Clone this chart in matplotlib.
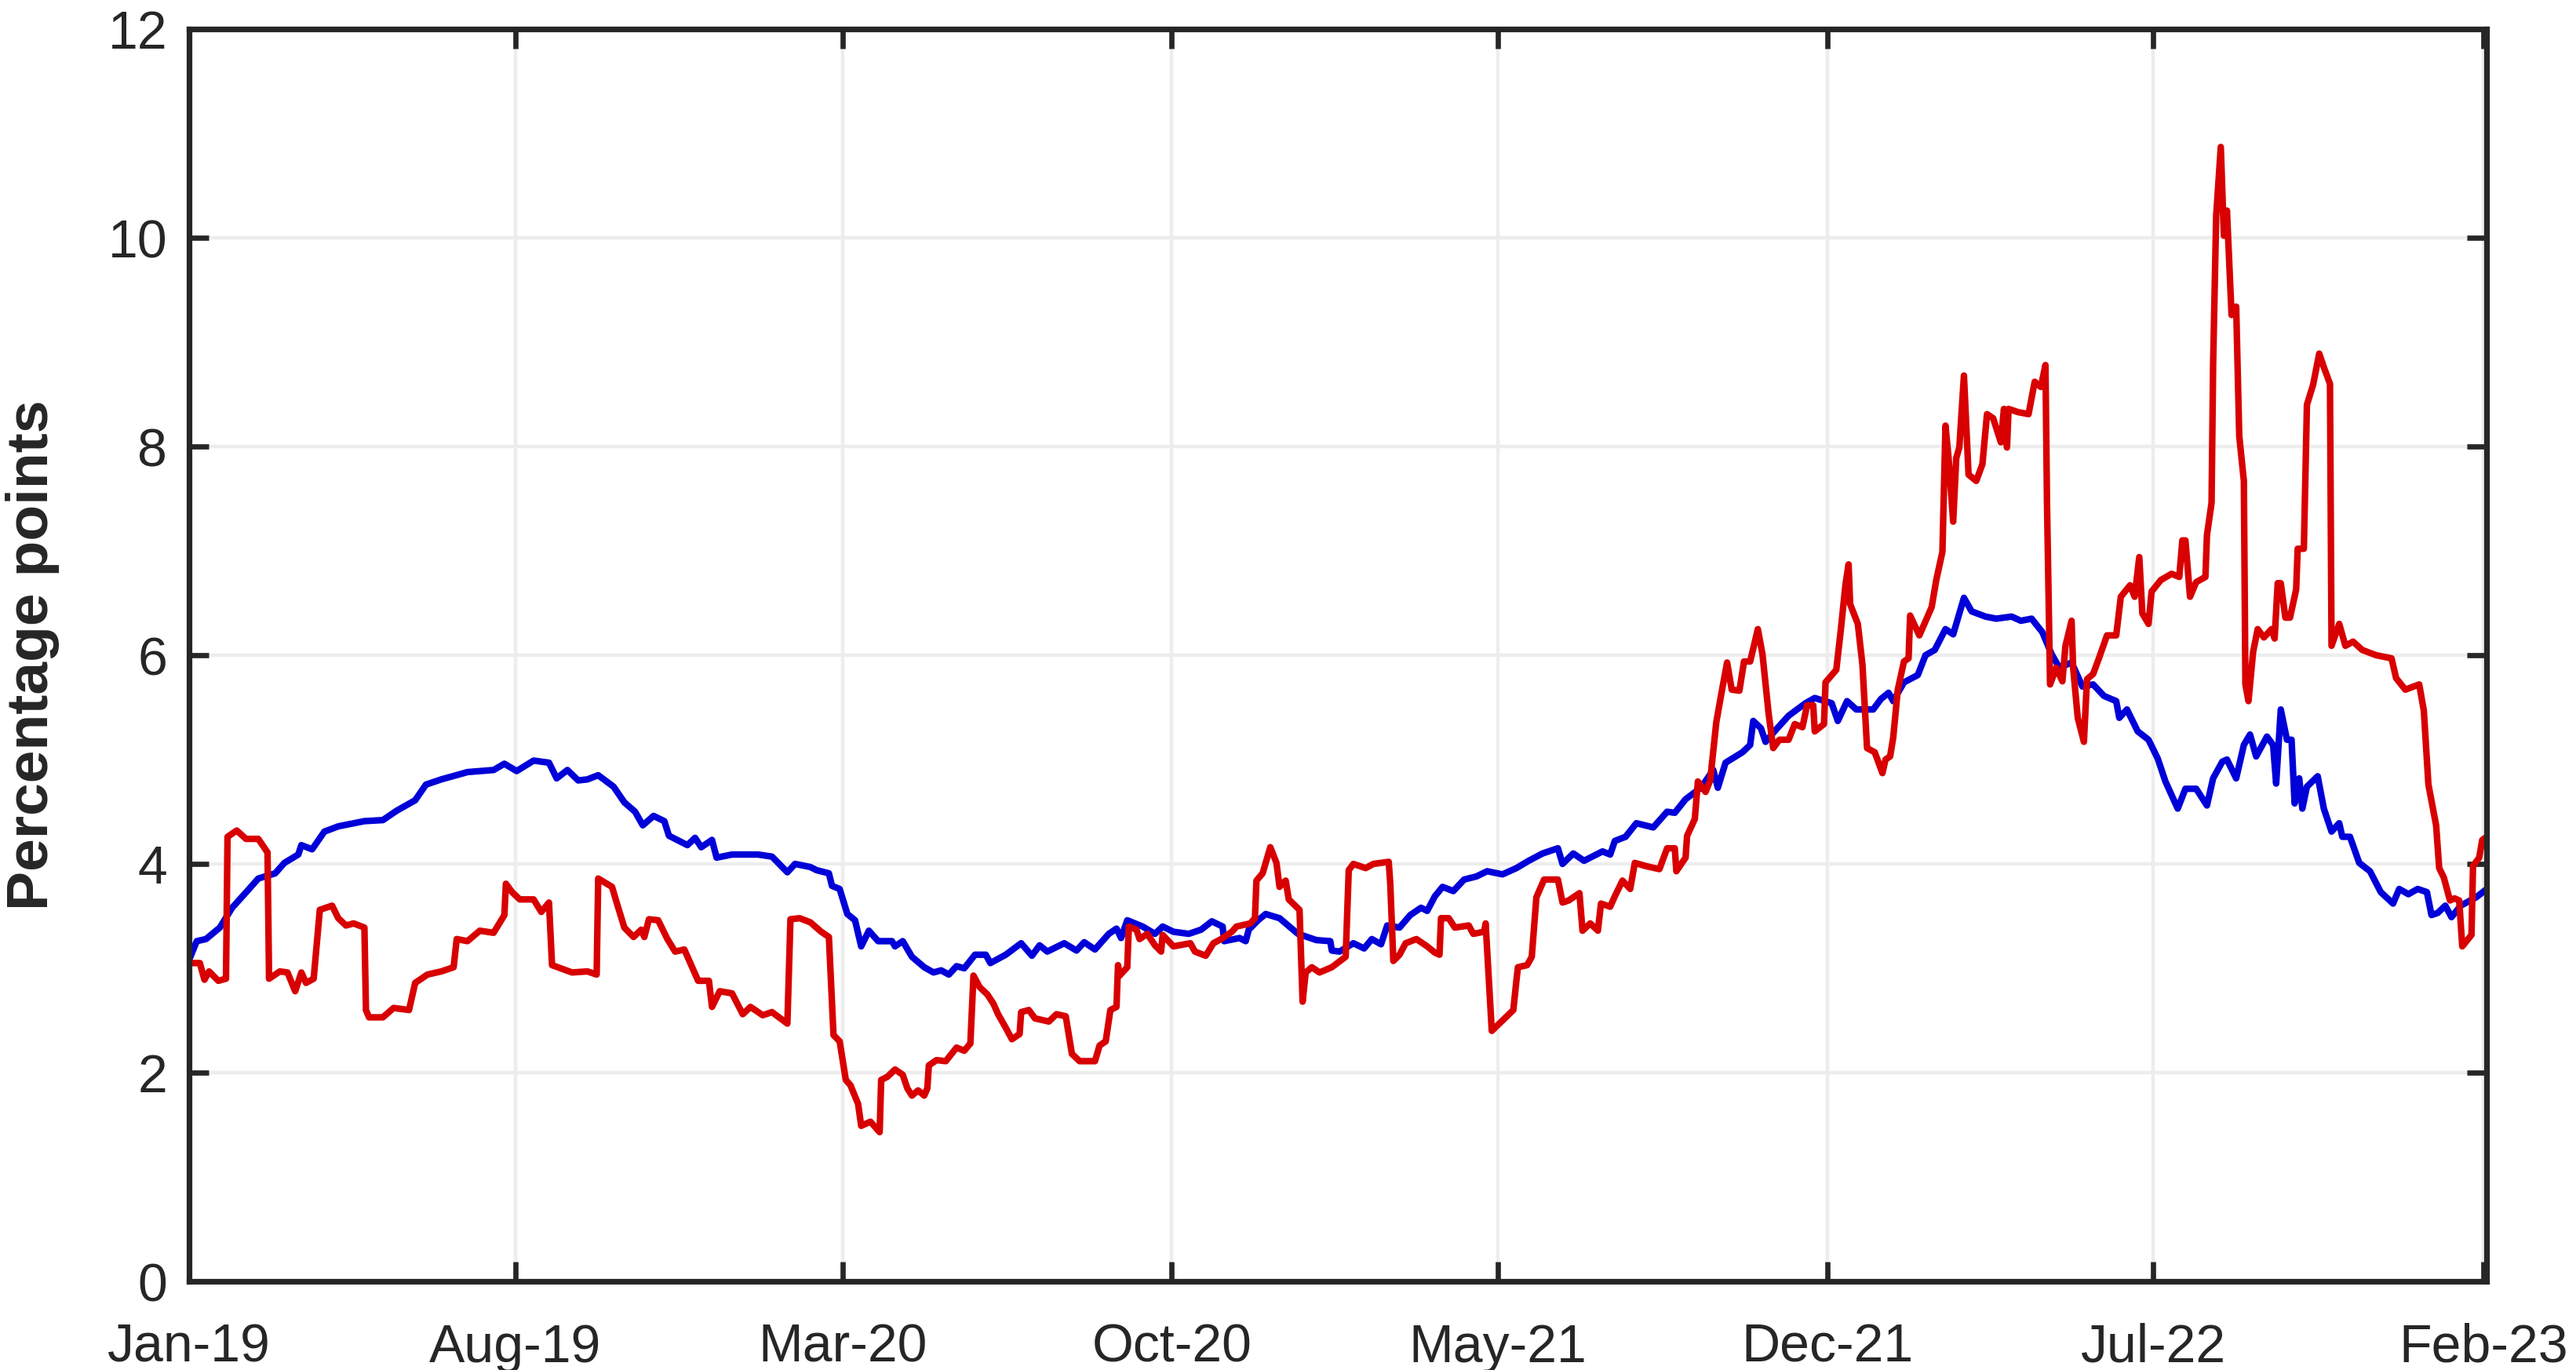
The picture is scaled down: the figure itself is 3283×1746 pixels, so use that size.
import numpy as np
import matplotlib
matplotlib.use("Agg")
import matplotlib.pyplot as plt
import matplotlib.dates as mdates

# days since 2019-01-01 and values
blue_day = [0, 5, 11, 20, 28, 39, 45, 56, 62, 71, 73, 80, 88, 97, 114, 126, 135, 147, 154, 164,
            181, 198, 205, 213, 224, 234, 239, 246, 253, 259, 266, 276, 283, 290, 295, 302, 309, 312,
            324, 329, 333, 340, 343, 353, 370, 379, 389, 394, 404, 408, 416, 418, 423, 428, 433, 437,
            442, 448, 457, 459, 464, 470, 478, 484, 489, 494, 499, 504, 511, 518, 521, 531, 541, 548,
            553, 558, 569, 577, 582, 589, 598, 603, 606, 610, 620, 628, 633, 640, 650, 658, 665, 672,
            673, 683, 687, 689, 695, 700, 709, 713, 721, 733, 742, 743, 748, 757, 764, 769, 775, 779,
            787, 794, 801, 805, 810, 815, 822, 829, 837, 844, 854, 863, 871, 880, 890, 893, 900, 907,
            919, 924, 927, 934, 941, 952, 961, 966, 973, 983, 991, 994, 999, 1010, 1015, 1017, 1022,
            1025, 1032, 1040, 1051, 1057, 1068, 1072, 1078, 1084, 1095, 1100, 1105, 1108, 1115, 1124,
            1129, 1135, 1142, 1147, 1154, 1159, 1168, 1175, 1185, 1191, 1198, 1205, 1211, 1216, 1224,
            1231, 1238, 1245, 1253, 1255, 1260, 1267, 1274, 1280, 1285, 1293, 1298, 1305, 1312, 1316,
            1322, 1325, 1331, 1336, 1340, 1344, 1351, 1355, 1357, 1360, 1364, 1367, 1369, 1372, 1374,
            1377, 1384, 1388, 1393, 1398, 1400, 1405, 1411, 1418, 1425, 1433, 1437, 1443, 1449, 1455,
            1458, 1462, 1467, 1471, 1477, 1487, 1494]
blue_val = [3.08, 3.26, 3.28, 3.39, 3.58, 3.76, 3.86, 3.91, 4.01, 4.09, 4.18, 4.14, 4.31, 4.36, 4.41,
            4.42, 4.51, 4.61, 4.76, 4.81, 4.88, 4.90, 4.96, 4.89, 4.99, 4.97, 4.82, 4.90, 4.80, 4.81,
            4.85, 4.74, 4.59, 4.50, 4.37, 4.46, 4.41, 4.27, 4.18, 4.25, 4.16, 4.23, 4.06, 4.09, 4.09,
            4.07, 3.92, 4.00, 3.97, 3.94, 3.91, 3.79, 3.76, 3.52, 3.46, 3.21, 3.36, 3.26, 3.26, 3.21,
            3.26, 3.11, 3.01, 2.96, 2.98, 2.94, 3.02, 3.00, 3.13, 3.13, 3.05, 3.13, 3.24, 3.12, 3.22,
            3.16, 3.24, 3.17, 3.25, 3.18, 3.33, 3.38, 3.29, 3.46, 3.40, 3.33, 3.40, 3.35, 3.33, 3.37,
            3.45, 3.40, 3.26, 3.29, 3.26, 3.37, 3.46, 3.52, 3.48, 3.43, 3.33, 3.27, 3.26, 3.17, 3.16,
            3.24, 3.19, 3.28, 3.23, 3.41, 3.39, 3.51, 3.58, 3.55, 3.69, 3.78, 3.74, 3.85, 3.88, 3.93,
            3.90, 3.96, 4.03, 4.10, 4.15, 4.00, 4.10, 4.03, 4.12, 4.09, 4.22, 4.26, 4.39, 4.35, 4.50,
            4.49, 4.62, 4.73, 4.90, 4.73, 4.97, 5.07, 5.14, 5.37, 5.30, 5.17, 5.29, 5.42, 5.54, 5.59,
            5.54, 5.37, 5.56, 5.48, 5.48, 5.58, 5.64, 5.56, 5.74, 5.81, 6.00, 6.05, 6.25, 6.20, 6.55,
            6.42, 6.37, 6.35, 6.37, 6.33, 6.35, 6.22, 6.01, 5.88, 5.93, 5.70, 5.72, 5.61, 5.56, 5.40,
            5.48, 5.27, 5.19, 5.01, 4.79, 4.53, 4.72, 4.72, 4.56, 4.82, 4.98, 5.00, 4.82, 5.14, 5.24,
            5.03, 5.22, 5.14, 4.77, 5.48, 5.19, 5.19, 4.58, 4.82, 4.53, 4.74, 4.84, 4.53, 4.31, 4.39,
            4.26, 4.26, 4.01, 3.93, 3.73, 3.62, 3.76, 3.71, 3.76, 3.73, 3.51, 3.53, 3.60, 3.49, 3.60,
            3.68, 3.76]

red_day = [0, 7, 10, 13, 19, 24, 25, 31, 37, 45, 51, 52, 59, 64, 69, 73, 76, 81, 85, 93, 97, 102,
           107, 114, 115, 117, 126, 133, 143, 147, 155, 164, 172, 174, 181, 189, 198, 205, 206, 210,
           215, 224, 229, 234, 236, 249, 259, 265, 266, 275, 278, 283, 289, 294, 296, 299, 305, 311,
           316, 322, 331, 338, 340, 345, 353, 360, 365, 373, 379, 389, 391, 397, 404, 411, 416, 419,
           423, 427, 430, 435, 437, 443, 449, 450, 454, 459, 464, 467, 470, 474, 478, 480, 481, 486,
           492, 499, 504, 508, 510, 514, 519, 523, 526, 531, 535, 540, 541, 546, 550, 559, 564, 570,
           574, 579, 589, 592, 596, 599, 603, 604, 605, 610, 611, 616, 618, 623, 628, 632, 633, 640,
           651, 654, 661, 666, 671, 678, 681, 690, 693, 694, 698, 703, 707, 709, 713, 715, 722, 724,
           726, 730, 735, 743, 752, 754, 757, 765, 770, 780, 781, 783, 787, 791, 798, 805, 810, 813,
           814, 819, 823, 832, 835, 842, 843, 847, 854, 861, 863, 864, 870, 873, 876, 881, 890, 893,
           897, 904, 906, 911, 916, 918, 924, 927, 932, 937, 940, 947, 956, 961, 966, 967, 973, 974,
           979, 981, 986, 989, 993, 996, 1000, 1003, 1008, 1011, 1015, 1020, 1023, 1027, 1030, 1034,
           1040, 1044, 1049, 1052, 1056, 1057, 1063, 1064, 1071, 1074, 1077, 1079, 1080, 1085, 1088,
           1091, 1096, 1101, 1103, 1106, 1108, 1111, 1115, 1118, 1119, 1125, 1133, 1136, 1140, 1142,
           1144, 1147, 1149, 1151, 1154, 1157, 1162, 1166, 1169, 1173, 1178, 1180, 1182, 1183, 1189,
           1196, 1200, 1204, 1207, 1208, 1210, 1214, 1218, 1220, 1224, 1225, 1228, 1232, 1234, 1238,
           1242, 1247, 1253, 1256, 1262, 1265, 1268, 1270, 1274, 1276, 1282, 1289, 1294, 1296, 1298,
           1301, 1305, 1311, 1312, 1315, 1316, 1318, 1321, 1323, 1325, 1328, 1331, 1333, 1336, 1337,
           1339, 1342, 1345, 1349, 1354, 1356, 1358, 1360, 1363, 1366, 1370, 1371, 1375, 1377, 1381,
           1385, 1388, 1392, 1393, 1398, 1402, 1407, 1413, 1422, 1432, 1435, 1441, 1450, 1453, 1456,
           1461, 1463, 1466, 1470, 1473, 1476, 1478, 1484, 1485, 1489, 1491, 1494]
red_val = [3.05, 3.05, 2.89, 2.97, 2.88, 2.90, 4.26, 4.32, 4.24, 4.24, 4.11, 2.90, 2.97, 2.96, 2.78,
           2.96, 2.86, 2.90, 3.56, 3.60, 3.48, 3.41, 3.43, 3.39, 2.60, 2.53, 2.53, 2.62, 2.60, 2.86,
           2.94, 2.97, 3.01, 3.28, 3.26, 3.36, 3.34, 3.51, 3.81, 3.73, 3.66, 3.66, 3.54, 3.63, 3.03,
           2.96, 2.97, 2.94, 3.86, 3.78, 3.63, 3.39, 3.30, 3.37, 3.30, 3.47, 3.46, 3.28, 3.16, 3.18,
           2.88, 2.88, 2.63, 2.78, 2.76, 2.56, 2.63, 2.55, 2.58, 2.47, 3.47, 3.48, 3.44, 3.35, 3.30,
           2.36, 2.30, 1.93, 1.88, 1.70, 1.49, 1.53, 1.43, 1.93, 1.96, 2.03, 1.98, 1.85, 1.78, 1.83,
           1.78, 1.85, 2.07, 2.12, 2.11, 2.24, 2.21, 2.28, 2.93, 2.82, 2.75, 2.66, 2.56, 2.43, 2.32,
           2.37, 2.58, 2.60, 2.52, 2.49, 2.56, 2.54, 2.18, 2.11, 2.11, 2.26, 2.30, 2.60, 2.63, 3.03,
           2.93, 3.01, 3.40, 3.37, 3.28, 3.33, 3.22, 3.16, 3.32, 3.21, 3.24, 3.16, 3.12, 3.24, 3.28,
           3.35, 3.40, 3.43, 3.48, 3.84, 3.91, 4.16, 4.01, 3.78, 3.84, 3.66, 3.56, 2.68, 2.96, 3.01,
           2.96, 3.01, 3.11, 3.94, 4.00, 3.96, 4.00, 4.02, 3.81, 3.07, 3.13, 3.24, 3.28, 3.21, 3.15,
           3.13, 3.48, 3.48, 3.39, 3.41, 3.33, 3.35, 3.43, 2.40, 2.50, 2.60, 2.88, 3.01, 3.03, 3.11,
           3.68, 3.85, 3.85, 3.63, 3.65, 3.72, 3.36, 3.43, 3.36, 3.62, 3.59, 3.69, 3.84, 3.76, 4.01,
           3.98, 3.95, 4.15, 4.15, 3.93, 4.06, 4.27, 4.43, 4.79, 4.69, 4.80, 5.36, 5.61, 5.93, 5.67,
           5.66, 5.94, 5.94, 6.25, 6.01, 5.44, 5.11, 5.19, 5.19, 5.34, 5.31, 5.52, 5.52, 5.27, 5.34,
           5.74, 5.86, 6.25, 6.68, 6.87, 6.49, 6.30, 5.91, 5.11, 5.07, 4.87, 5.00, 5.03, 5.21, 5.67,
           5.94, 5.97, 6.38, 6.19, 6.46, 6.72, 6.99, 8.20, 7.89, 7.28, 7.89, 7.99, 8.68, 7.73, 7.67,
           7.83, 8.31, 8.27, 8.04, 8.36, 7.99, 8.36, 8.33, 8.31, 8.62, 8.57, 8.78, 7.46, 5.72, 5.88,
           5.75, 6.09, 6.33, 5.88, 5.40, 5.17, 5.77, 5.82, 5.98, 6.19, 6.19, 6.56, 6.67, 6.56, 6.94,
           6.40, 6.30, 6.61, 6.72, 6.78, 6.75, 7.10, 7.10, 6.56, 6.70, 6.75, 7.15, 7.46, 8.78, 10.21,
           10.87, 10.02, 10.26, 9.26, 9.34, 8.10, 7.67, 5.72, 5.56, 6.03, 6.25, 6.17, 6.25, 6.16,
           6.69, 6.69, 6.36, 6.36, 6.63, 7.02, 7.02, 8.40, 8.59, 8.89, 8.76, 8.60, 6.09, 6.30, 6.09,
           6.13, 6.05, 6.00, 5.97, 5.78, 5.67, 5.72, 5.47, 4.76, 4.37, 3.96, 3.87, 3.65, 3.67, 3.65,
           3.21, 3.32, 3.98, 4.06, 4.23, 4.26]

tick_dates = ["2019-01-01", "2019-08-01", "2020-03-01", "2020-10-01", "2021-05-01",
              "2021-12-01", "2022-07-01", "2023-02-01"]

start = np.datetime64("2019-01-01")
blue_t = start + np.array(blue_day).astype("timedelta64[D]")
red_t = start + np.array(red_day).astype("timedelta64[D]")

plt.rcParams["font.family"] = ["Liberation Sans", "DejaVu Sans"]
dark = "#262626"

fig = plt.figure(figsize=(16.415, 8.73), dpi=200)
ax = fig.add_axes([0.0734, 0.0647, 0.892, 0.9141])

ax.plot(blue_t, blue_val, color="#0000d8", lw=3.0, solid_joinstyle="round")
ax.plot(red_t, red_val, color="#d80000", lw=3.0, solid_joinstyle="round")

ax.set_xlim(np.datetime64("2019-01-01"), np.datetime64("2023-02-03"))
ax.set_ylim(0, 12)
ax.set_yticks(range(0, 13, 2))
ax.set_xticks([np.datetime64(d) for d in tick_dates])
ax.xaxis.set_major_formatter(mdates.DateFormatter("%b-%y"))

ax.grid(True, color="#ededed", lw=1.6)
ax.set_axisbelow(True)
for s in ax.spines.values():
    s.set_linewidth(2.6)
    s.set_color(dark)
ax.tick_params(direction="in", length=9, width=2.4, color=dark, labelcolor=dark,
               labelsize=24.5, top=True, right=True)
ax.tick_params(axis="x", pad=19)
ax.tick_params(axis="y", pad=10)

ax.set_ylabel("Percentage points", fontsize=27, fontweight="bold", color=dark, labelpad=22)

fig.savefig("out.png", dpi=200)
